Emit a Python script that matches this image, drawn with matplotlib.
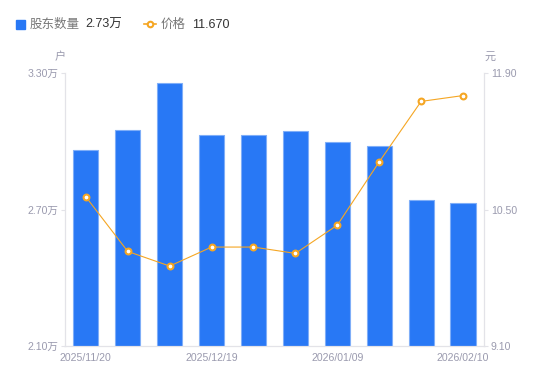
import matplotlib
matplotlib.use("Agg")
import matplotlib.pyplot as plt
from matplotlib.lines import Line2D
from matplotlib.patches import Rectangle

plt.rcParams['font.family'] = ['Liberation Sans', 'Noto Sans CJK SC', 'DejaVu Sans']

# data
dates = ['2025/11/20', '2025/11/30', '2025/12/10', '2025/12/19', '2025/12/26',
         '2025/12/31', '2026/01/09', '2026/01/20', '2026/01/31', '2026/02/10']
holders = [2.96, 3.05, 3.255, 3.03, 3.03, 3.045, 2.995, 2.98, 2.74, 2.727]   # 万户
price = [10.63, 10.07, 9.92, 10.115, 10.115, 10.05, 10.34, 10.99, 11.61, 11.67]
left_ticks = [2.10, 2.70, 3.30]
right_ticks = [9.10, 10.50, 11.90]
shown = [0, 3, 6, 9]

blue = '#2878F5'
orange = '#F5A623'
grey = '#9A9AAE'
axcol = '#E3E3E8'

fig = plt.figure(figsize=(5.5, 3.81), dpi=100)
ax = fig.add_axes([0.118, 0.092, 0.762, 0.716])
x = list(range(len(dates)))
ax.bar(x, holders, width=0.6, color=blue, edgecolor='#7FAEF8', linewidth=0.8, zorder=2)
ax.set_xlim(-0.5, len(dates) - 0.5)
ax.set_ylim(left_ticks[0], left_ticks[-1])
ax.set_yticks(left_ticks)
ax.set_yticklabels(['%.2f万' % v for v in left_ticks])
ax.set_xticks([x[i] for i in shown])
ax.set_xticklabels([dates[i] for i in shown])

ax2 = ax.twinx()
ax2.plot(x, price, color=orange, lw=0.8, marker='o', ms=4.2, mfc='white',
         mec=orange, mew=1.5, zorder=3)
ax2.set_ylim(right_ticks[0], right_ticks[-1])
ax2.set_yticks(right_ticks)
ax2.set_yticklabels(['%.2f' % v for v in right_ticks])

for a in (ax, ax2):
    for s in a.spines.values():
        s.set_color(axcol)
    a.spines['top'].set_visible(False)
    a.tick_params(colors=grey, labelsize=7.6, length=3, width=0.8, pad=2)
    a.tick_params(axis='y', color=axcol)
ax.tick_params(axis='x', length=0, pad=5)
ax2.tick_params(axis='x', length=0)

# unit labels
fig.text(60 / 550, 1 - 57 / 381, '户', color=grey, fontsize=8, ha='center', va='center')
fig.text(490 / 550, 1 - 57 / 381, '元', color=grey, fontsize=8, ha='center', va='center')

# legend
ly = 1 - 28 / 381
fig.add_artist(Rectangle((16 / 550, 1 - 28.5 / 381), 9 / 550, 9 / 381,
                         transform=fig.transFigure, color=blue))
fig.text(30 / 550, ly, '股东数量', color='#777777', fontsize=9, va='baseline')
fig.text(85 / 550, ly, '%.2f万' % 2.73, color='#333333', fontsize=9, va='baseline')
fig.add_artist(Line2D([144 / 550, 156 / 550], [1 - 24 / 381] * 2, transform=fig.transFigure,
                      color=orange, lw=1.2))
fig.add_artist(Line2D([150 / 550], [1 - 24 / 381], transform=fig.transFigure, marker='o', ms=4,
                      mfc='white', mec=orange, mew=1.5))
fig.text(161 / 550, ly, '价格', color='#777777', fontsize=9, va='baseline')
fig.text(192 / 550, ly, '%.3f' % price[-1], color='#333333', fontsize=9, va='baseline')

fig.savefig('out.png', dpi=100)
